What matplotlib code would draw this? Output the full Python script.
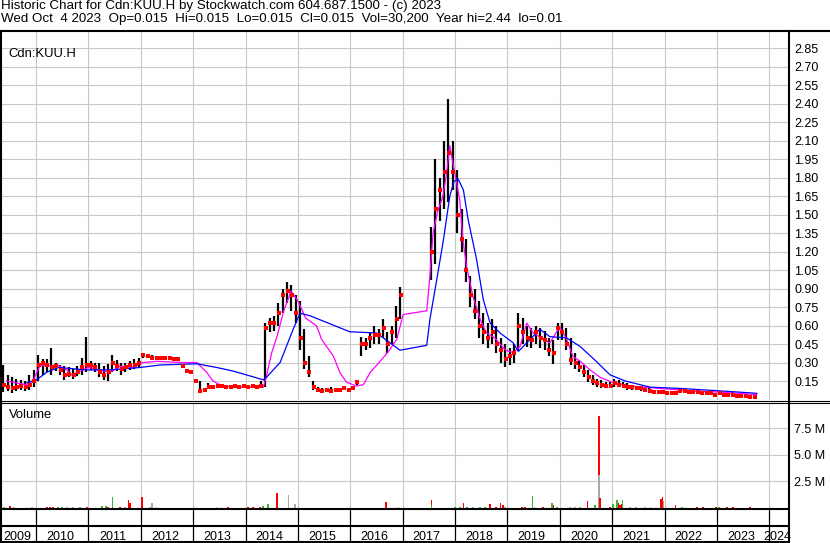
import matplotlib.pyplot as plt
import numpy as np

plt.rcParams['font.family'] = ['Liberation Sans', 'DejaVu Sans']

W, H = 830, 543

header_1 = 'Historic Chart for Cdn:KUU.H by Stockwatch.com 604.687.1500 - (c) 2023'
header_2 = 'Wed Oct  4 2023  Op=0.015  Hi=0.015  Lo=0.015  Cl=0.015  Vol=30,200  Year hi=2.44  lo=0.01'
symbol = 'Cdn:KUU.H'

price_labels = ['0.15', '0.30', '0.45', '0.60', '0.75', '0.90', '1.05', '1.20', '1.35', '1.50',
                '1.65', '1.80', '1.95', '2.10', '2.25', '2.40', '2.55', '2.70', '2.85']
vol_labels = ['2.5 M', '5.0 M', '7.5 M']
vol_ticks = [2.5, 5.0, 7.5]
years = [2009, 2010, 2011, 2012, 2013, 2014, 2015, 2016, 2017, 2018, 2019, 2020, 2021, 2022, 2023, 2024]

# monthly price bars, first bar is May 2009 (nan = trading halted)
first_year, first_month = 2009, 5
nan = np.nan
bar_hi = [
    .28, .20, .18, .17, .16, .15, .20, .24,                                  # 2009
    .36, .33, .33, .42, .30, .28, .27, .26, .25, .27, .34, .51,              # 2010
    .31, .30, .30, .27, .29, .36, .32, .30, .30, .31, .33, .34,              # 2011
    .37, .36, .36, .35, .35, .35, .34, .34, .34, .28, .24, .23,              # 2012
    .16, .15, .09, .13, .11, .11, .11, .11, .11, .11, .11, .11,              # 2013
    .11, .11, .11, .15, .62, .66, .68, .78, .90, .95, .93, .85,              # 2014
    .80, .57, .35, .15, .10, .09, .09, .10, .09, .09, .10, .09,              # 2015
    .10, .15, .51, .50, .55, .60, .57, .65, .55, .60, .76, .91,              # 2016
    nan, nan, nan, nan, nan, nan, 1.40, 1.95, 1.80, 2.10, 2.44, 2.10,        # 2017
    1.86, 1.55, 1.30, 1.00, .90, .80, .70, .62, .65, .60, .50, .45,          # 2018
    .42, .45, .70, .66, .60, .58, .60, .58, .56, .50, .48, .62,              # 2019
    .62, .58, .50, .38, .32, .28, .24, .20, .17, .16, .14, .14,              # 2020
    .17, .16, .14, .13, .12, .11, .10, .10, .09, .08, .08, .07,              # 2021
    .07, .06, .06, .09, .08, .08, .07, .07, .06, .06, .06, .05,              # 2022
    .06, .05, .05, .06, .04, .04, .04, .03, .03,                             # 2023
]
bar_lo = [
    .06, .07, .05, .07, .08, .07, .08, .10,
    .15, .20, .22, .20, .23, .20, .16, .18, .17, .19, .20, .22,
    .24, .22, .18, .16, .15, .22, .23, .20, .22, .24, .25, .26,
    .34, .34, .33, .33, .33, .33, .33, .32, .32, .26, .22, .21,
    .14, .06, .06, .09, .09, .10, .10, .10, .10, .10, .10, .10,
    .10, .10, .10, .10, .10, .55, .56, .60, .70, .78, .72, .62,
    .40, .25, .18, .08, .07, .06, .07, .06, .07, .07, .08, .07,
    .08, .12, .35, .40, .42, .45, .45, .50, .38, .45, .50, .65,
    nan, nan, nan, nan, nan, nan, .97, 1.10, 1.45, 1.55, 1.60, 1.70,
    1.35, 1.20, .95, .75, .65, .50, .45, .42, .45, .38, .30, .26,
    .28, .30, .40, .45, .43, .42, .45, .42, .40, .35, .29, .48,
    .48, .40, .28, .25, .22, .18, .14, .12, .10, .09, .09, .09,
    .10, .10, .09, .08, .08, .08, .07, .07, .06, .05, .05, .05,
    .04, .04, .04, .05, .06, .05, .05, .05, .04, .04, .04, .04,
    .04, .03, .03, .03, .02, .02, .02, .015, .01,
]
bar_cl = [
    .12, .10, .09, .10, .11, .10, .12, .15,
    .28, .30, .28, .26, .27, .24, .20, .21, .20, .22, .26, .28,
    .28, .26, .22, .20, .22, .30, .27, .25, .26, .28, .28, .30,
    .36, .35, .34, .34, .34, .34, .34, .33, .33, .27, .23, .22,
    .15, .07, .08, .10, .10, .11, .11, .10, .10, .11, .10, .11,
    .10, .11, .10, .11, .58, .62, .62, .70, .85, .88, .85, .70,
    .50, .30, .22, .10, .08, .07, .08, .07, .08, .08, .09, .08,
    .09, .14, .45, .45, .50, .52, .52, .58, .45, .55, .65, .85,
    nan, nan, nan, nan, nan, nan, 1.20, 1.55, 1.70, 1.85, 2.00, 1.85,
    1.50, 1.30, 1.05, .85, .72, .60, .55, .50, .55, .45, .40, .33,
    .35, .38, .60, .55, .50, .48, .55, .50, .48, .40, .38, .58,
    .55, .45, .32, .30, .26, .22, .18, .15, .13, .12, .11, .11,
    .13, .12, .11, .10, .10, .09, .09, .08, .07, .06, .06, .06,
    .05, .05, .05, .07, .07, .06, .06, .06, .05, .05, .05, .04,
    .05, .04, .04, .04, .03, .03, .03, .02, .02,
]

# short moving average (magenta)
ma_fast_t = [2009.44, 2009.82, 2009.95, 2010.08, 2010.20, 2010.40, 2010.59, 2010.68, 2010.84, 2011.00,
             2011.22, 2011.41, 2011.60, 2011.85, 2012.04, 2012.30, 2012.81, 2013.07, 2013.26, 2013.38,
             2013.51, 2013.76, 2014.34, 2014.40, 2014.50, 2014.60, 2014.73, 2014.87, 2015.00, 2015.15,
             2015.35, 2015.40, 2015.45, 2015.68, 2015.80, 2015.93, 2016.12, 2016.25, 2016.38, 2016.57,
             2016.73, 2016.89, 2017.01, 2017.46, 2017.52, 2017.58, 2017.67, 2017.77, 2017.84, 2017.90,
             2017.96, 2018.03, 2018.09, 2018.15, 2018.22, 2018.34, 2018.48, 2018.60, 2018.76, 2018.86,
             2018.97, 2019.11, 2019.24, 2019.37, 2019.49, 2019.81, 2020.00, 2020.13, 2020.25, 2020.39,
             2020.58, 2020.77, 2021.00, 2021.34, 2021.91, 2022.49, 2023.06, 2023.76]
ma_fast_v = [0.15, 0.12, 0.16, 0.28, 0.27, 0.28, 0.24, 0.20, 0.23, 0.26,
             0.24, 0.22, 0.27, 0.26, 0.30, 0.31, 0.30, 0.30, 0.22, 0.15,
             0.12, 0.10, 0.10, 0.19, 0.38, 0.51, 0.72, 0.88, 0.80, 0.66,
             0.60, 0.55, 0.49, 0.35, 0.22, 0.14, 0.11, 0.12, 0.22, 0.31,
             0.39, 0.49, 0.69, 0.72, 1.00, 1.35, 1.53, 1.65, 1.84, 2.06,
             1.92, 1.76, 1.62, 1.30, 1.08, 0.84, 0.65, 0.54, 0.50, 0.45,
             0.40, 0.38, 0.43, 0.62, 0.54, 0.46, 0.59, 0.49, 0.35, 0.31,
             0.24, 0.18, 0.14, 0.11, 0.09, 0.07, 0.06, 0.04]

# long moving average (blue)
ma_slow_t = [2009.82, 2009.98, 2010.20, 2010.43, 2010.97, 2011.41, 2011.99, 2012.37, 2013.07, 2013.45,
             2013.77, 2014.34, 2014.40, 2014.66, 2014.91, 2015.04, 2015.23, 2015.99, 2016.50, 2016.76,
             2016.95, 2017.46, 2017.52, 2017.65, 2017.78, 2017.90, 2017.98, 2018.06, 2018.16, 2018.25,
             2018.41, 2018.54, 2018.67, 2018.86, 2019.11, 2019.21, 2019.37, 2019.62, 2019.81, 2020.13,
             2020.39, 2020.67, 2020.96, 2021.25, 2021.73, 2022.29, 2022.68, 2023.25, 2023.76]
ma_slow_v = [0.135, 0.15, 0.22, 0.26, 0.24, 0.24, 0.26, 0.28, 0.29, 0.26,
             0.23, 0.16, 0.18, 0.30, 0.57, 0.70, 0.68, 0.55, 0.54, 0.46,
             0.40, 0.44, 0.65, 0.97, 1.30, 1.65, 1.77, 1.79, 1.70, 1.46,
             1.14, 0.81, 0.62, 0.54, 0.46, 0.39, 0.46, 0.57, 0.51, 0.50,
             0.43, 0.32, 0.20, 0.15, 0.10, 0.09, 0.08, 0.065, 0.05]

# volume bars (millions), r = down, g = up, n = unchanged
vol_t = [2009.39, 2009.50, 2009.57, 2009.92, 2010.21, 2010.27, 2010.32, 2010.42, 2010.50, 2010.59,
         2010.71, 2010.84, 2010.97, 2011.26, 2011.34, 2011.37, 2011.46, 2011.60, 2011.70, 2011.77,
         2011.79, 2012.02, 2012.18, 2012.21, 2012.30, 2013.45, 2013.67, 2014.05, 2014.14, 2014.28,
         2014.33, 2014.43, 2014.60, 2014.82, 2014.94, 2016.68, 2016.92, 2017.55, 2017.55, 2018.00,
         2018.09, 2018.16, 2018.23, 2018.34, 2018.48, 2018.57, 2018.67, 2018.78, 2018.87, 2018.92,
         2018.95, 2019.28, 2019.34, 2019.48, 2019.52, 2019.68, 2019.85, 2019.88, 2019.95, 2020.19,
         2020.29, 2020.39, 2020.53, 2020.67, 2020.75, 2020.75, 2020.77, 2020.96, 2021.02, 2021.09,
         2021.12, 2021.15, 2021.18, 2021.20, 2021.34, 2021.45, 2021.63, 2021.73, 2021.93, 2021.96,
         2021.98, 2022.21, 2022.33, 2022.62, 2022.73, 2022.98, 2023.04, 2023.19, 2023.31, 2023.63]
vol_m = [0.08, 0.17, 0.05, 0.05, 0.08, 0.08, 0.06, 0.05, 0.05, 0.04,
         0.04, 0.05, 0.08, 0.10, 0.10, 0.06, 1.00, 0.05, 0.08, 0.73,
         0.40, 1.00, 0.08, 0.40, 0.05, 0.08, 0.05, 0.08, 0.05, 0.05,
         0.10, 0.38, 1.38, 1.16, 0.38, 0.48, 0.08, 0.73, 0.25, 0.08,
         0.08, 0.45, 0.05, 0.05, 0.05, 0.08, 0.35, 0.08, 0.45, 0.20,
         0.08, 0.08, 0.05, 1.06, 0.05, 0.08, 0.45, 0.20, 0.08, 0.05,
         0.08, 0.05, 0.66, 0.20, 8.66, 3.08, 0.90, 0.08, 0.35, 0.73,
         0.47, 0.20, 0.35, 0.73, 0.08, 0.08, 0.08, 0.08, 0.82, 0.98,
         0.60, 0.20, 0.05, 0.05, 0.05, 0.08, 0.08, 0.08, 0.05, 0.05]
vol_c = ['g', 'r', 'g', 'n', 'r', 'r', 'r', 'g', 'g', 'n',
         'n', 'g', 'r', 'g', 'g', 'r', 'g', 'r', 'n', 'r',
         'r', 'r', 'n', 'n', 'n', 'n', 'r', 'r', 'r', 'r',
         'g', 'g', 'r', 'n', 'n', 'r', 'n', 'r', 'g', 'g',
         'g', 'r', 'g', 'n', 'g', 'g', 'r', 'r', 'r', 'r',
         'n', 'r', 'r', 'g', 'n', 'r', 'g', 'r', 'g', 'n',
         'n', 'n', 'r', 'g', 'r', 'n', 'r', 'r', 'g', 'g',
         'r', 'r', 'r', 'g', 'n', 'n', 'n', 'n', 'r', 'r',
         'n', 'r', 'g', 'r', 'r', 'r', 'g', 'r', 'r', 'r']
vol_colors = {'r': '#ff0000', 'g': '#3cb43c', 'n': '#a8a8a8'}

# ---- layout (pixel boxes) ----
def box(x0, y0, x1, y1):
    return [x0 / W, 1 - y1 / H, (x1 - x0) / W, (y1 - y0) / H]

X_LO, X_HI = 2009.351, 2024.376
grid_c = '#c8c8c8'
fs = 9

fig = plt.figure(figsize=(W / 100, H / 100), dpi=100)
fig.patch.set_facecolor('white')

# price panel
ax_p = fig.add_axes(box(2, 31, 789, 400))
n = len(bar_hi)
t = first_year + (first_month - 1 + np.arange(n) + 0.5) / 12.0
ax_p.vlines(t, bar_lo, bar_hi, color='black', lw=1.6, zorder=3)
ax_p.plot(ma_fast_t, ma_fast_v, color='#ff00ff', lw=0.9, zorder=4)
ax_p.plot(ma_slow_t, ma_slow_v, color='#0000ff', lw=0.9, zorder=5)
ax_p.plot(t + 0.01, bar_cl, 's', color='#ff0000', ms=2.2, mew=0, zorder=6)

ax_p.set_xlim(X_LO, X_HI)
ax_p.set_ylim(-0.004, 2.991)
ticks_p = [float(s) for s in price_labels]
ax_p.set_yticks(ticks_p)
ax_p.set_yticklabels(price_labels)
ax_p.set_xticks(years[1:])
ax_p.tick_params(axis='y', left=False, right=False, labelleft=False, labelright=True,
                 length=0, pad=3.8, labelsize=fs)
ax_p.tick_params(axis='x', bottom=False, labelbottom=False, length=0)
ax_p.grid(True, color=grid_c, lw=0.8, zorder=0)
ax_p.set_axisbelow(True)
for s in ax_p.spines.values():
    s.set_visible(False)
ax_p.text(0.0085, 0.93, symbol, transform=ax_p.transAxes, fontsize=9.4,
          va='baseline', ha='left')

# volume panel
ax_v = fig.add_axes(box(2, 403, 789, 509))
for tt, vv, cc in zip(vol_t, vol_m, vol_c):
    ax_v.bar(tt, vv, width=0.03, color=vol_colors[cc], lw=0, zorder=3)
ax_v.set_xlim(X_LO, X_HI)
ax_v.set_ylim(-0.14, 9.9)
ax_v.set_yticks(vol_ticks)
ax_v.set_yticklabels(vol_labels)
ax_v.set_xticks(years[1:])
ax_v.tick_params(axis='y', left=False, right=False, labelleft=False, labelright=True,
                 length=0, pad=3.8, labelsize=fs)
ax_v.tick_params(axis='x', bottom=False, labelbottom=False, length=0)
ax_v.grid(True, color=grid_c, lw=0.8, zorder=0)
ax_v.set_axisbelow(True)
for s in ax_v.spines.values():
    s.set_visible(False)
ax_v.text(0.0085, 0.86, 'Volume', transform=ax_v.transAxes, fontsize=9.4,
          va='baseline', ha='left')

# year rows under the chart
ax_x = fig.add_axes(box(2, 509, 789, 542))
ax_x.set_xlim(X_LO, X_HI)
ax_x.set_ylim(0, 1)
ax_x.axis('off')
ax_x.vlines(years[1:], 0, 1, color='black', lw=0.9)
for y in years:
    lo = max(y, X_LO)
    hi = min(y + 1, X_HI)
    ax_x.text((lo + hi) / 2 - 0.04, 0.07, str(y), ha='center', va='baseline',
              fontsize=fs, clip_on=False)

# frame lines in pixel coordinates
ax_f = fig.add_axes([0, 0, 1, 1], zorder=10)
ax_f.set_xlim(0, W)
ax_f.set_ylim(H, 0)
ax_f.axis('off')
ax_f.plot([0, W], [31, 31], color='black', lw=1.5)
ax_f.plot([1, 1], [31, H], color='black', lw=1.5)
ax_f.plot([789, 789], [31, H], color='black', lw=1.5)
ax_f.plot([0, W], [400.5, 400.5], color='black', lw=0.8)
ax_f.plot([0, W], [403, 403], color='black', lw=0.8)
for yy in [509, 526, 541.5]:
    ax_f.plot([0, 789], [yy, yy], color='black', lw=1.5)

# two header lines as one block of text
fig.text(1 / W, 1 - 0.2 / H, header_1 + '\n' + header_2, fontsize=9.6,
         va='top', ha='left', linespacing=1.06)

fig.savefig('out.png', dpi=100, facecolor='white')
